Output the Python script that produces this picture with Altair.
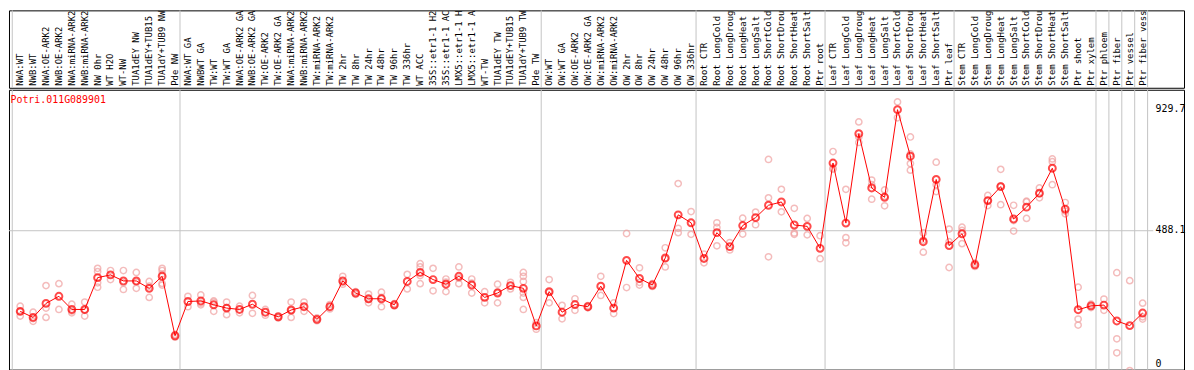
import altair as alt
import pandas as pd

gene = "Potri.011G089901"

labels = [
    "NWA:WT", "NWB:WT", "NWA:OE-ARK2", "NWB:OE-ARK2", "NWA:miRNA-ARK2", "NWB:miRNA-ARK2",
    "NW 0hr", "WT H2O", "WT-NW", "TUA1dEY NW", "TUA1dEY+TUB15 NW", "TUA1dY+TUB9 NW", "Pde NW",
    "NWA:WT GA", "NWBWT GA", "TW:WT", "TW:WT GA", "NWA:OE-ARK2 GA", "NWB:OE-ARK2 GA",
    "TW:OE-ARK2", "TW:OE-ARK2 GA", "NWA:miRNA-ARK2 GA", "NWB:miRNA-ARK2 GA", "TW:miRNA-ARK2",
    "TW:miRNA-ARK2 GA", "TW 2hr", "TW 8hr", "TW 24hr", "TW 48hr", "TW 96hr", "TW 336hr", "WT ACC",
    "35S::etr1-1 H2O", "35S::etr1-1 ACC", "LMX5::etr1-1 H2O", "LMX5::etr1-1 ACC", "WT-TW",
    "TUA1dEY TW", "TUA1dEY+TUB15 TW", "TUA1dY+TUB9 TW", "Pde TW",
    "OW:WT", "OW:WT GA", "OW:OE-ARK2", "OW:OE-ARK2 GA", "OW:miRNA-ARK2", "OW:miRNA-ARK2 GA",
    "OW 2hr", "OW 8hr", "OW 24hr", "OW 48hr", "OW 96hr", "OW 336hr",
    "Root CTR", "Root LongCold", "Root LongDrought", "Root LongHeat", "Root LongSalt",
    "Root ShortCold", "Root ShortDrought", "Root ShortHeat", "Root ShortSalt", "Ptr root",
    "Leaf CTR", "Leaf LongCold", "Leaf LongDrought", "Leaf LongHeat", "Leaf LongSalt",
    "Leaf ShortCold", "Leaf ShortDrought", "Leaf ShortHeat", "Leaf ShortSalt", "Ptr leaf",
    "Stem CTR", "Stem LongCold", "Stem LongDrought", "Stem LongHeat", "Stem LongSalt",
    "Stem ShortCold", "Stem ShortDrought", "Stem ShortHeat", "Stem ShortSalt",
    "Ptr shoot", "Ptr xylem", "Ptr phloem", "Ptr fiber", "Ptr vessel", "Ptr fiber vessel",
]

means = [
    194, 172, 223, 249, 201, 201, 317, 327, 305, 305, 278, 322, 105,
    230, 232, 218, 206, 201, 220, 191, 174, 199, 211, 165, 211, 305, 261, 240, 240, 218, 303, 336,
    310, 293, 322, 290, 245, 261, 288, 278, 141,
    266, 191, 219, 211, 286, 206, 380, 314, 290, 389, 546, 517,
    387, 481, 430, 507, 536, 581, 593, 509, 504, 424,
    735, 516, 842, 644, 610, 929.7, 760, 448, 675, 434,
    477, 364, 598, 649, 531, 574, 625, 716, 567,
    200, 214, 217, 159, 142, 188,
]

replicates = [
    [213, 194, 177], [191, 158, 168], [288, 206, 172], [295, 201], [220, 189, 195], [228, 177, 198],
    [351, 339, 298, 282], [343, 310], [343, 274, 298], [336, 278, 301], [303, 245, 286],
    [351, 343, 330, 290, 296], [110, 100],
    [249, 211], [254, 218, 224], [228, 194, 232], [228, 182, 208], [213, 189], [252, 187],
    [201, 180], [178, 170], [228, 172, 197], [228, 194], [170, 160], [219, 203],
    [322, 293, 300], [266, 256], [257, 225, 238], [264, 211, 245], [222, 214], [329, 276],
    [368, 356, 295, 325], [351, 269], [312, 266, 301], [356, 295, 315], [312, 261, 297],
    [266, 225], [293, 225, 265], [300, 276], [336, 322, 303, 245, 201, 261], [153, 129],
    [310, 225, 263], [216, 167], [240, 198], [215, 207], [322, 252], [225, 186],
    [478, 281], [353, 290, 300], [295, 285], [426, 356, 385], [660, 497, 481], [558, 475],
    [403, 371], [517, 500, 433], [445, 418], [534, 476], [556, 510], [748, 608, 393],
    [639, 557], [570, 480, 475], [533, 473], [470, 386],
    [777, 712, 716], [639, 463, 444], [885, 810, 830], [673, 603, 656], [637, 579, 614],
    [958, 900], [830, 733, 709, 768], [480, 410, 454], [738, 656, 631], [494, 448, 354],
    [501, 441, 489], [370, 358], [617, 598, 580], [712, 583, 652], [581, 487, 525],
    [596, 533, 593], [644, 608, 623], [750, 740, 656], [591, 550, 560],
    [282, 166, 144], [220, 208], [239, 198], [335, 94, 43], [306, -22], [224, 166, 174],
]

# first column of each sample group (last entry closes the final group)
group_starts = [1, 14, 42, 54, 64, 74, 85, 86, 87, 88, 89]
axis_values = [0, 488.1, 929.7]
axis_labels = ["0", "488.1", "929.7"]
mid_value = 488.1

# ---- tables ----
idx = list(range(1, len(labels) + 1))
mean_df = pd.DataFrame({"idx": idx, "label": labels, "value": means})
rep_df = pd.DataFrame(
    [{"idx": i, "value": v} for i, vals in zip(idx, replicates) for v in vals]
)
bound_df = pd.DataFrame({"pos": [g - 0.615 for g in group_starts]})
mid_df = pd.DataFrame({"value": [mid_value]})
tick_df = pd.DataFrame({"value": axis_values, "txt": axis_labels})
title_df = pd.DataFrame({"t": [gene]})

W = 1184
x_scale = alt.Scale(domain=[0.1308, 91.2077], nice=False, zero=False)
y_scale = alt.Scale(domain=[-18.46, 1002.2], nice=False, zero=False)
MONO = "DejaVu Sans Mono"
GRID = "#c4c4c4"

# ---- top panel: rotated sample labels ----
top_rules = alt.Chart(bound_df).mark_rule(color=GRID, strokeWidth=1).encode(
    x=alt.X("pos:Q", scale=x_scale, axis=None)
)
top_text = alt.Chart(mean_df).mark_text(
    angle=270, align="left", baseline="middle", font=MONO, fontSize=9,
    color="black", clip=True,
).encode(
    x=alt.X("idx:Q", scale=x_scale, axis=None),
    y=alt.value(76),
    text="label:N",
)
top = alt.layer(top_rules, top_text).properties(width=W, height=78)

# ---- bottom panel: expression profile ----
rules = alt.Chart(bound_df).mark_rule(color=GRID, strokeWidth=1).encode(
    x=alt.X("pos:Q", scale=x_scale, axis=None)
)
hline = alt.Chart(mid_df).mark_rule(color=GRID, strokeWidth=1).encode(
    y=alt.Y("value:Q", scale=y_scale, axis=None),
    x=alt.value(0),
    x2=alt.value(1153),
)
reps = alt.Chart(rep_df).mark_point(
    shape="circle", filled=False, size=40, strokeWidth=1.5, color="#f0a0a0", clip=True
).encode(
    x=alt.X("idx:Q", scale=x_scale, axis=None),
    y=alt.Y("value:Q", scale=y_scale, axis=None),
)
line = alt.Chart(mean_df).mark_line(color="#ff0000", strokeWidth=1, clip=True).encode(
    x=alt.X("idx:Q", scale=x_scale, axis=None),
    y=alt.Y("value:Q", scale=y_scale, axis=None),
)
pts = alt.Chart(mean_df).mark_point(
    shape="circle", filled=False, size=48, strokeWidth=2, color="#ff0000", clip=True
).encode(
    x=alt.X("idx:Q", scale=x_scale, axis=None),
    y=alt.Y("value:Q", scale=y_scale, axis=None),
)
ticks_txt = alt.Chart(tick_df).mark_text(
    align="left", baseline="middle", font=MONO, fontSize=10, color="black", dy=-1
).encode(
    x=alt.value(1155.3),
    y=alt.Y("value:Q", scale=y_scale, axis=None),
    text="txt:N",
)
title_txt = alt.Chart(title_df).mark_text(
    align="left", baseline="middle", font=MONO, fontSize=10, color="#ff0000"
).encode(x=alt.value(1.5), y=alt.value(10), text="t:N")

bottom = alt.layer(rules, hline, reps, line, pts, ticks_txt, title_txt).properties(
    width=W, height=282
)

chart = alt.vconcat(top, bottom, spacing=0).properties(
    padding=0, background="white"
).configure_view(stroke="black", strokeWidth=1)

chart.save("out.html", embed_options={"renderer": "svg", "actions": False})
